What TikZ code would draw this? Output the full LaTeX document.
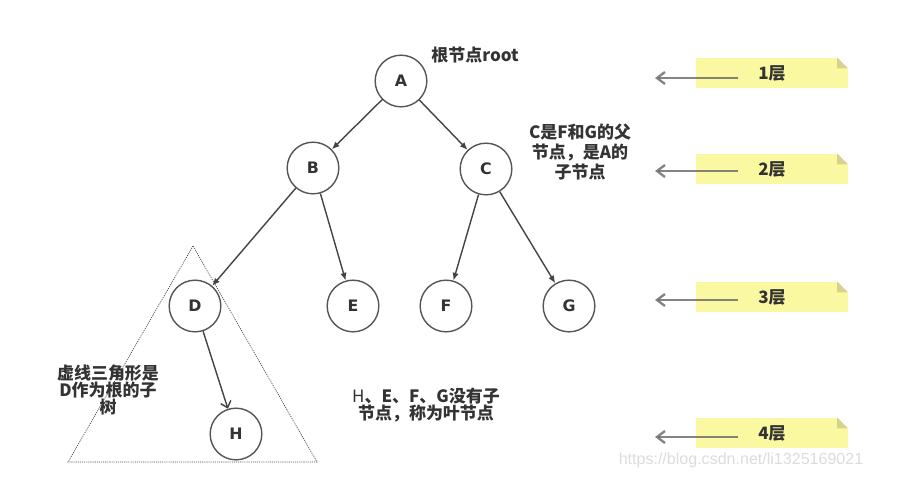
\documentclass[tikz,border=0pt]{standalone}
\usepackage{fontspec}
\usetikzlibrary{arrows.meta, positioning, calc}
\newfontfamily\cjk{Noto Sans CJK SC}
\newfontfamily\lat{DejaVu Sans}
\newfontfamily\wmk{Liberation Sans}
\definecolor{nodeBd}{HTML}{555555}
\definecolor{edgeClr}{HTML}{444444}
\definecolor{txtClr}{HTML}{333333}
\definecolor{noteFl}{HTML}{FAF8A0}
\definecolor{foldFl}{HTML}{D6D48C}
\definecolor{levClr}{HTML}{6E6E6E}
\definecolor{triClr}{HTML}{444444}
\definecolor{wmkClr}{HTML}{DCDCDC}
\newcommand{\hd}{\cjk\bfseries\fontsize{14.5}{13}\selectfont}

\begin{document}
\begin{tikzpicture}[
  x=0.03cm, y=-0.03cm,
  tnode/.style={circle, draw=nodeBd, line width=1.2pt, minimum size=1.55cm,
                inner sep=0pt, text=txtClr, font=\lat\bfseries\fontsize{13.5}{15}\selectfont},
  edge/.style={-{Latex[length=2.3mm, width=1.9mm]}, line width=1.2pt, draw=edgeClr},
  openedge/.style={-{Straight Barb[length=1.8mm, width=3.2mm]}, line width=1.2pt, draw=edgeClr},
  note/.style={fill=noteFl, minimum width=4.55cm, minimum height=0.92cm,
               inner sep=0pt, text=txtClr, font=\hd},
  levarrow/.style={-{Straight Barb[length=2.4mm, width=3.6mm]}, line width=2pt,
                   draw=levClr, opacity=0.85},
  remark/.style={align=center, text=txtClr, font=\hd},
]
\useasboundingbox (0,0) rectangle (908,498);

% ---------- tree nodes ----------
\node[tnode] (A) at (401,81) {A};
\node[tnode] (B) at (313,168) {B};
\node[tnode] (C) at (486,169) {C};
\node[tnode] (D) at (195,306) {D};
\node[tnode] (E) at (353,306) {E};
\node[tnode] (F) at (446,306) {F};
\node[tnode] (G) at (569,306) {G};
\node[tnode] (H) at (236,434) {H};

% ---------- parent -> child ----------
\draw[edge] (A) -- (B);
\draw[edge] (A) -- (C);
\draw[edge] (B) -- (D);
\draw[edge] (B) -- (E);
\draw[edge] (C) -- (F);
\draw[edge] (C) -- (G);
\draw[openedge] (D) -- (H);

% ---------- dotted subtree triangle ----------
\coordinate (triTop) at (193,246);
\coordinate (triLeft) at (68,462);
\coordinate (triRight) at (317,462);
\draw[triClr, line width=0.6pt, dash pattern=on 0.9pt off 0.9pt]
  (triTop) -- (triLeft) -- (triRight) -- cycle;

% ---------- remarks ----------
\node[remark] (rootLbl) at (475,55) {根节点root};
\node[remark, font=\cjk\bfseries\fontsize{14.5}{17}\selectfont] (cLbl) at (580,152)
  {C是F和G的父\\节点，是A的\\子节点};
\node[remark] (subLbl) at (108,390) {虚线三角形是\\D作为根的子\\树};
\node[remark] (leafLbl) at (426,405)
  {{\mdseries H}、E、F、G没有子\\节点，称为叶节点};

% ---------- level notes ----------
\foreach \lv/\yb/\ya in {1/73/78, 2/169/171, 3/297/300, 4/433/437} {
  \node[note] (lev\lv) at (772,\yb) {\lv{}层};
  \fill[white] (lev\lv.north east) -- ++(-11,0) -- ++(11,11) -- cycle;
  \fill[foldFl] ($(lev\lv.north east)+(-11,0)$) -- ++(11,11) -- ++(-11,0) -- cycle;
  \coordinate (tail\lv) at (738,\ya);
  \coordinate (tip\lv) at (655,\ya);
  \draw[levarrow] (tail\lv) -- (tip\lv);
}

% ---------- watermark ----------
\node[text=wmkClr, font=\wmk\fontsize{13.7}{15}\selectfont, inner sep=0pt] (mark)
  at (741,460) {https://blog.csdn.net/li1325169021};

\end{tikzpicture}
\end{document}
